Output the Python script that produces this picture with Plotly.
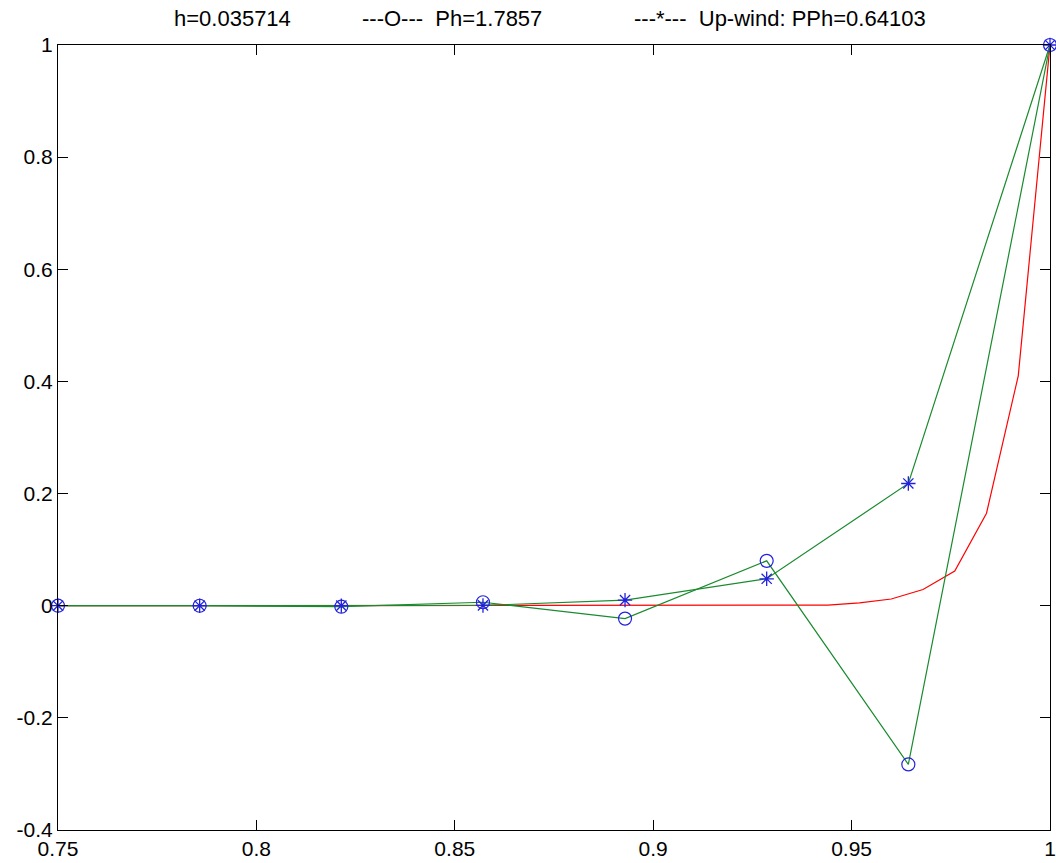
import plotly.graph_objects as go

# nodes of the coarse grid (h = 1/28), shown part of [0,1]
x_nodes = [0.75, 0.7857, 0.8214, 0.8571, 0.8929, 0.9286, 0.9643, 1.0]
# central scheme (circles)
u_central = [0.0, -0.0001, -0.0018, 0.0062, -0.023, 0.080, -0.283, 1.0]
# up-wind scheme (asterisks)
u_upwind = [0.0, 0.0, 0.0001, 0.0005, 0.010, 0.048, 0.218, 1.0]
# exact solution (red)
x_exact = [0.75, 0.80, 0.85, 0.90, 0.928, 0.936, 0.944, 0.952, 0.96, 0.968, 0.976, 0.984, 0.992, 1.0]
u_exact = [0.0, 0.0, 0.0, 0.0, 0.0002, 0.0005, 0.0012, 0.005, 0.012, 0.029, 0.062, 0.165, 0.41, 1.0]

x_ticks = [0.75, 0.8, 0.85, 0.9, 0.95, 1.0]
x_ticktext = ["0.75", "0.8", "0.85", "0.9", "0.95", "1"]
y_ticks = [-0.4, -0.2, 0.0, 0.2, 0.4, 0.6, 0.8, 1.0]
y_ticktext = ["-0.4", "-0.2", "0", "0.2", "0.4", "0.6", "0.8", "1"]

title_parts = ["h=0.035714", "---O---\u00a0\u00a0Ph=1.7857", "---*---\u00a0\u00a0Up-wind: PPh=0.64103"]

RED = "#ff0000"
GREEN = "#1a8a2e"
BLUE = "#2222dd"

fig = go.Figure()
fig.add_trace(go.Scatter(x=x_exact, y=u_exact, mode="lines",
                         line=dict(color=RED, width=1.2), cliponaxis=False))
fig.add_trace(go.Scatter(x=x_nodes, y=u_central, mode="lines",
                         line=dict(color=GREEN, width=1.2), cliponaxis=False))
fig.add_trace(go.Scatter(x=x_nodes, y=u_upwind, mode="lines",
                         line=dict(color=GREEN, width=1.2), cliponaxis=False))
fig.add_trace(go.Scatter(x=x_nodes, y=u_central, mode="markers",
                         marker=dict(symbol="circle-open", size=13, color=BLUE,
                                     line=dict(width=1.2, color=BLUE)),
                         cliponaxis=False))
fig.add_trace(go.Scatter(x=x_nodes, y=u_upwind, mode="markers",
                         marker=dict(symbol="asterisk-open", size=12, color=BLUE,
                                     line=dict(width=1.3, color=BLUE)),
                         cliponaxis=False))

axis_font = dict(family="Liberation Sans, Arial, sans-serif", size=21, color="black")

fig.update_layout(
    width=1056, height=863,
    margin=dict(l=58, r=6, t=45, b=33, pad=0),
    paper_bgcolor="white", plot_bgcolor="white",
    showlegend=False,
    font=axis_font,
)
fig.update_xaxes(range=[0.75, 1.0], tickvals=x_ticks, ticktext=x_ticktext,
                 ticks="inside", ticklen=10, tickcolor="black", tickwidth=1,
                 showline=True, linecolor="black", linewidth=1, mirror="ticks",
                 showgrid=False, zeroline=False, tickfont=axis_font, automargin=False)
fig.update_yaxes(range=[-0.4, 1.0], tickvals=y_ticks, ticktext=y_ticktext,
                 ticks="inside", ticklen=10, tickcolor="black", tickwidth=1,
                 showline=True, linecolor="black", linewidth=1, mirror="ticks",
                 showgrid=False, zeroline=False, tickfont=axis_font, automargin=False)

title_pos = [(172, "left"), (452, "center"), (928, "right")]
for txt, (px, anchor) in zip(title_parts, title_pos):
    fig.add_annotation(text=txt, xref="paper", yref="paper",
                       x=(px - 58) / 992, y=1.0, yshift=27,
                       xanchor=anchor, yanchor="middle", showarrow=False,
                       font=dict(family="Liberation Sans, Arial, sans-serif", size=22, color="black"))

fig.write_html("out.html")
